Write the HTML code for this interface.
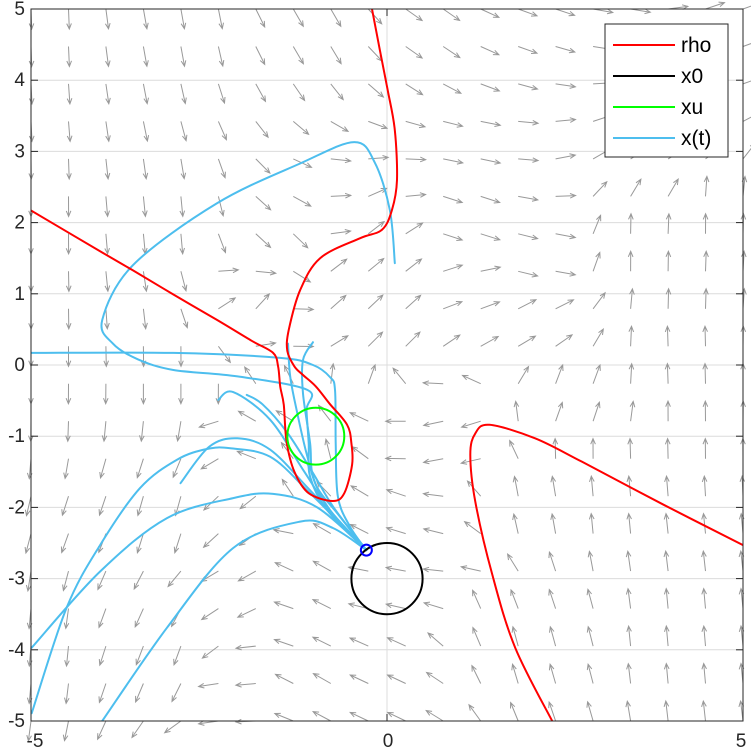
<!DOCTYPE html>
<html><head><meta charset="utf-8"><style>
html,body{margin:0;padding:0;background:#fff;}
svg{display:block;font-family:"Liberation Sans",Arial,sans-serif;}
</style></head><body>
<svg id="chart" width="751" height="753" viewBox="0 0 751 753" xmlns="http://www.w3.org/2000/svg"></svg>
<script>
// ---- data ----
const xTicks = [-5, 0, 5];
const yTicks = [5, 4, 3, 2, 1, 0, -1, -2, -3, -4, -5];
const gridN = 20;
// field direction anchors: [x, y, angle(deg)]
const fieldAnchors = [
 [-5,5,-88],[-3,5,-80],[-1,5,-60],[0.5,5,-35],[2,5,-20],[3,5,-10],[4,4,15],[4.8,4.5,20],[4,3,30],
 [-5,2,-90],[-3,2,-85],[-1.5,1.5,-50],[-1.8,0.9,55],[-1.5,0.7,-15],
 [-5,0,-90],[-3,0,-90],[-5,-4,-95],[-3,-4,-110],[-3,-2,-105],[-2,-2,-140],[-2,-3,-150],[-2,-4.5,-175],
 [-1,-3,150],[-1,-4.5,150],[0,-4.5,155],[0,-3,170],[1,-3,175],[1,-1,-160],[0.5,-1,180],[-0.5,-2,150],
 [-1,-1.5,100],[-1.5,-1,150],[0,0.5,45],[-1,1,45],[0,1.5,40],[1,1,20],[1,2,-20],[2,1.5,-15],[2,0.5,30],
 [2.5,-0.5,70],[2,-2,100],[3,-2,95],[4,0,92],[4,-4,95],[2,-4,105],[1.5,-3.5,110],[3.5,1.5,90],[4.5,2,90]
];
const rhoA_x = [-5,-4,-3.57,-3,-2.4,-1.9,-1.6,-1.53,-1.5,-1.45,-1.41,-1.3,-1.1,-0.76,-0.6,-0.49,-0.5,-0.56,-0.8,-1.0,-1.18,-1.3,-1.4,-1.38,-1.22,-0.94,-0.38,-0.07,0.07,0.14,0.11,0.01,-0.1,-0.21];
const rhoA_y = [2.17,1.58,1.33,0.99,0.64,0.34,0.17,-0.02,-0.3,-0.56,-1.08,-1.5,-1.8,-1.91,-1.8,-1.4,-1.1,-0.84,-0.55,-0.3,-0.14,-0.02,0.2,0.49,1.05,1.5,1.78,1.9,2.18,2.6,3.3,3.86,4.42,5];
const rhoB_x = [5,3.9,2.74,2.08,1.44,1.24,1.17,1.24,1.48,1.8,2.32];
const rhoB_y = [-2.53,-1.97,-1.36,-1.03,-0.84,-0.96,-1.26,-1.92,-2.95,-3.97,-5];
const x0Center = [0,-3], x0Radius = 0.5;
const xuCenter = [-1,-1], xuRadius = 0.4;
const startPt = [-0.29,-2.6];
const traj1_x = [0.11,0.04,-0.17,-0.46,-1.22,-2.39,-3.57,-4.0,-3.85,-3.5,-3.0,-2.1,-1.12,-1.13,-1.1,-1.08,-0.84,-0.29];
const traj1_y = [1.43,2.18,2.84,3.13,2.83,2.27,1.40,0.63,0.3,0.08,-0.07,-0.16,-0.35,-0.63,-1.1,-1.57,-2.04,-2.6];
const traj2_x = [-5,-3,-1.5,-1.04,-0.8,-0.73,-0.72,-0.69,-0.52,-0.29];
const traj2_y = [0.17,0.17,0.1,0.0,-0.17,-0.35,-1.1,-1.85,-2.27,-2.6];
const traj3_x = [-1.39,-1.36,-1.27,-1.13,-0.98,-0.7,-0.29];
const traj3_y = [0.3,-0.16,-0.63,-1.24,-1.72,-2.08,-2.6];
const traj4_x = [-1.04,-1.18,-1.18,-1.08,-1.04,-0.8,-0.29];
const traj4_y = [0.32,0.07,-0.4,-1.1,-1.57,-2.04,-2.6];
const traj5_x = [-2.37,-2.16,-1.64,-1.18,-0.8,-0.29];
const traj5_y = [-0.49,-0.38,-0.77,-1.47,-2.04,-2.6];
const traj6_x = [-1.97,-1.75,-1.4,-1.05,-0.75,-0.29];
const traj6_y = [-0.42,-0.55,-0.95,-1.5,-2.0,-2.6];
const traj7_x = [-2.9,-2.5,-2.1,-1.64,-1.08,-0.29];
const traj7_y = [-1.66,-1.15,-1.03,-1.19,-1.76,-2.6];
const traj8_x = [-4.99,-4.5,-4.03,-3.47,-2.95,-2.53,-2.2,-1.64,-1.08,-0.29];
const traj8_y = [-4.89,-3.41,-2.53,-1.73,-1.33,-1.18,-1.17,-1.29,-1.8,-2.6];
const traj9_x = [-4.99,-4.03,-3.09,-2.16,-1.6,-0.98,-0.29];
const traj9_y = [-3.97,-2.9,-2.15,-1.87,-1.81,-2.0,-2.6];
const traj10_x = [-4.0,-3.09,-2.16,-1.22,-0.76,-0.29];
const traj10_y = [-5.0,-3.69,-2.57,-2.2,-2.29,-2.6];

// ---- layout ----
const L=31, R=743, T=9, B=721;
const sx = v => L + (v+5)/10*(R-L);
const sy = v => B - (v+5)/10*(B-T);
const NS="http://www.w3.org/2000/svg";
const svg=document.getElementById('chart');
function mk(tag, attrs, parent){const e=document.createElementNS(NS,tag);for(const k in attrs)e.setAttribute(k,attrs[k]);(parent||svg).appendChild(e);return e;}

// grid
const grid=mk('g',{});


yTicks.forEach(v=>{ if(v>-5&&v<5){const l=mk('line',{x1:L,x2:R,y1:sy(v),y2:sy(v),stroke:'#dcdcdc','stroke-width':1},grid);

}});
xTicks.forEach(v=>{ if(v>-5&&v<5){const l=mk('line',{y1:T,y2:B,x1:sx(v),x2:sx(v),stroke:'#dcdcdc','stroke-width':1},grid);

}});

// quiver
function fieldAngle(x,y){let cx=0,cy=0;fieldAnchors.forEach(a=>{const d2=(x-a[0])**2+(y-a[1])**2+0.05;const w=1/(d2*d2);const t=a[2]*Math.PI/180;cx+=w*Math.cos(t);cy+=w*Math.sin(t);});return Math.atan2(cy,cx);}
const quiver=mk('g',{stroke:'#999','stroke-width':1,fill:'none'});


for(let i=0;i<gridN;i++)for(let j=0;j<gridN;j++){
 const x=-5+10*i/(gridN-1), y=-5+10*j/(gridN-1);
 const a=fieldAngle(x,y);const len=20;
 const x1=sx(x),y1=sy(y),x2=x1+len*Math.cos(a),y2=y1-len*Math.sin(a);
 const ha=Math.atan2(y1-y2,x1-x2);
 const d=`M${x1.toFixed(1)},${y1.toFixed(1)}L${x2.toFixed(1)},${y2.toFixed(1)}M${(x2+6*Math.cos(ha+0.4)).toFixed(1)},${(y2+6*Math.sin(ha+0.4)).toFixed(1)}L${x2.toFixed(1)},${y2.toFixed(1)}L${(x2+6*Math.cos(ha-0.4)).toFixed(1)},${(y2+6*Math.sin(ha-0.4)).toFixed(1)}`;
 const p=mk('path',{d:d},quiver);
 
 
}

// clip
const defs=mk('defs',{});const cp=mk('clipPath',{id:'clip'},defs);mk('rect',{x:L,y:T,width:R-L,height:B-T},cp);
const plot=mk('g',{'clip-path':'url(#clip)',fill:'none','stroke-linejoin':'round','stroke-linecap':'round'});



function smoothPath(xs,ys){const p=xs.map((v,i)=>[sx(v),sy(ys[i])]);let d=`M${p[0][0]},${p[0][1]}`;
 for(let i=0;i<p.length-1;i++){const p0=p[i-1]||p[i],p1=p[i],p2=p[i+1],p3=p[i+2]||p2;
 const c1=[p1[0]+(p2[0]-p0[0])/6,p1[1]+(p2[1]-p0[1])/6],c2=[p2[0]-(p3[0]-p1[0])/6,p2[1]-(p3[1]-p1[1])/6];
 d+=`C${c1[0].toFixed(1)},${c1[1].toFixed(1)} ${c2[0].toFixed(1)},${c2[1].toFixed(1)} ${p2[0].toFixed(1)},${p2[1].toFixed(1)}`;}return d;}

const trajs=[[traj1_x,traj1_y],[traj2_x,traj2_y],[traj3_x,traj3_y],[traj4_x,traj4_y],[traj5_x,traj5_y],[traj6_x,traj6_y],[traj7_x,traj7_y],[traj8_x,traj8_y],[traj9_x,traj9_y],[traj10_x,traj10_y]];
trajs.forEach(t=>{const p=mk('path',{d:smoothPath(t[0],t[1]),stroke:'#4dbeee','stroke-width':2},plot);

});
[[rhoA_x,rhoA_y],[rhoB_x,rhoB_y]].forEach(t=>{const p=mk('path',{d:smoothPath(t[0],t[1]),stroke:'#ff0000','stroke-width':2},plot);

});
const c0=mk('circle',{cx:sx(x0Center[0]),cy:sy(x0Center[1]),r:x0Radius*71.2,stroke:'#000','stroke-width':2},plot);


const cu=mk('circle',{cx:sx(xuCenter[0]),cy:sy(xuCenter[1]),r:xuRadius*71.2,stroke:'#00ff00','stroke-width':2},plot);


const sp=mk('circle',{cx:sx(startPt[0]),cy:sy(startPt[1]),r:5.5,stroke:'#0000ff','stroke-width':2},plot);



// axes box
const box=mk('rect',{x:L,y:T,width:R-L,height:B-T,fill:'none',stroke:'#262626','stroke-width':1});


const ticks=mk('g',{stroke:'#262626','stroke-width':1});


yTicks.forEach(v=>{mk('line',{x1:L,x2:L+7,y1:sy(v),y2:sy(v)},ticks);mk('line',{x1:R,x2:R-7,y1:sy(v),y2:sy(v)},ticks);});
xTicks.forEach(v=>{mk('line',{x1:sx(v),x2:sx(v),y1:B,y2:B-7},ticks);mk('line',{x1:sx(v),x2:sx(v),y1:T,y2:T+7},ticks);});
yTicks.forEach(v=>{const t=mk('text',{x:L-6,y:sy(v)+6,'text-anchor':'end','font-size':19,fill:'#262626'});t.textContent=String(v);

});
xTicks.forEach(v=>{const t=mk('text',{x:sx(v)+(v===-5?4:v===5?-2:1),y:B+26,'text-anchor':'middle','font-size':19,fill:'#262626'});t.textContent=String(v);

});

// legend
const legendLabels=['rho','x0','xu','x(t)'];
const legendColors=['#ff0000','#000000','#00ff00','#4dbeee'];
const lg=mk('g',{});


mk('rect',{x:605,y:24,width:123,height:133,fill:'#fff',stroke:'#262626','stroke-width':1},lg);
legendLabels.forEach((s,i)=>{const y=45+i*31;
 const e=mk('g',{},lg);
 
 
 mk('line',{x1:613,x2:675,y1:y,y2:y,stroke:legendColors[i],'stroke-width':2},e);
 const t=mk('text',{x:681,y:y+7,'font-size':21,fill:'#000'},e);t.textContent=s;});
</script>
</body></html>
